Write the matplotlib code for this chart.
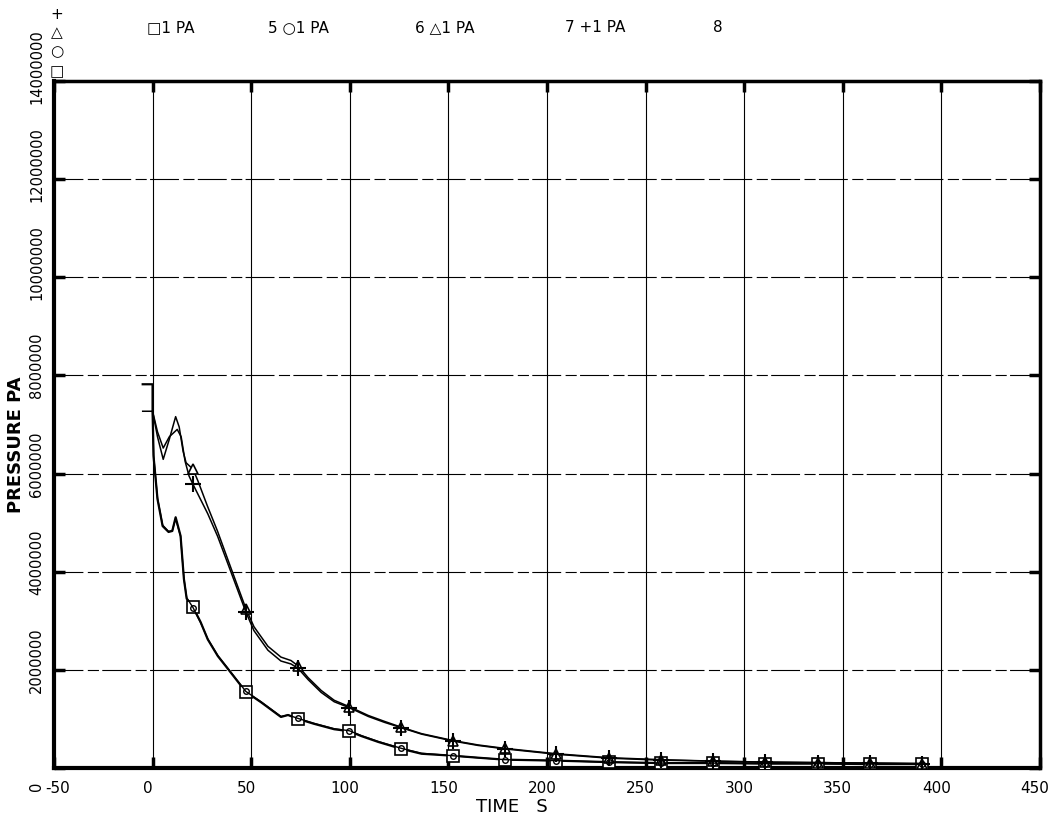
import numpy as np
import matplotlib
matplotlib.use('Agg')
import matplotlib.pyplot as plt
from matplotlib.transforms import ScaledTranslation, blended_transform_factory

# --- DATA (pressure in units of 1e6 Pa) ---
x_ticks = [-50, 0, 50, 100, 150, 200, 250, 300, 350, 400, 450]
x_tick_labels = ['-50', '0', '50', '100', '150', '200', '250', '300', '350', '400', '450']
y_ticks = [0, 2e6, 4e6, 6e6, 8e6, 10e6, 12e6, 14e6]
y_tick_labels = ['0', '2000000', '4000000', '6000000', '8000000', '10000000', '12000000', '14000000']

mark_t = [20.5, 47.3, 73.8, 99.7, 126.2, 152.3, 178.6, 204.8, 231.4, 257.8,
          284.4, 310.8, 337.2, 363.6, 390.0]

# series 4 (square)
t_sq = [-5, 0, 0, 0.5, 2.5, 5.1, 8.1, 10.0, 11.7, 14.2, 15.9, 17.3, 20.5, 24.4, 28.0,
        33.1, 38.2, 47.3, 55.0, 65.1, 68.7, 73.8, 81.9, 92.1, 99.7, 105.9, 114.5, 126.2,
        136.4, 152.3, 165.0, 178.6, 204.8, 231.4, 257.8, 284.4, 310.8, 337.2, 363.6, 390.0]
p_sq = [7.82, 7.82, 7.27, 6.35, 5.48, 4.93, 4.81, 4.83, 5.11, 4.73, 3.85, 3.45, 3.28, 2.97, 2.62,
        2.28, 2.02, 1.55, 1.34, 1.04, 1.08, 1.00, 0.90, 0.79, 0.75, 0.65, 0.53, 0.39,
        0.29, 0.25, 0.21, 0.17, 0.15, 0.12, 0.10, 0.10, 0.09, 0.09, 0.08, 0.08]

# series 5 (circle)
t_ci = [0, 0.5, 2.5, 5.1, 8.1, 10.0, 11.7, 14.2, 15.9, 17.3, 20.5, 24.4, 28.0,
        33.1, 38.2, 47.3, 55.0, 65.1, 68.7, 73.8, 81.9, 92.1, 99.7, 105.9, 114.5, 126.2,
        136.4, 152.3, 165.0, 178.6, 204.8, 231.4, 257.8, 284.4, 310.8, 337.2, 363.6, 390.0]
p_ci = [7.27, 6.38, 5.50, 4.95, 4.82, 4.84, 5.08, 4.72, 3.86, 3.47, 3.27, 2.96, 2.63,
        2.29, 2.03, 1.56, 1.35, 1.05, 1.08, 1.01, 0.91, 0.80, 0.76, 0.66, 0.54, 0.40,
        0.30, 0.25, 0.21, 0.17, 0.15, 0.12, 0.10, 0.10, 0.09, 0.09, 0.08, 0.08]

# series 6 (triangle)
t_tr = [-5, 0, 2.5, 5.4, 8.5, 11.7, 13.5, 15.5, 17.0, 20.5, 23.0, 27.8, 32.9, 39.7, 47.3,
        51.4, 58.5, 65.1, 70.2, 73.8, 78.9, 85.5, 92.1, 99.7, 109.4, 117.6, 126.2, 136.4,
        152.3, 165.0, 178.6, 204.8, 231.4, 257.8, 284.4, 310.8, 337.2, 363.6, 390.0]
p_tr = [7.27, 7.27, 6.75, 6.29, 6.70, 7.16, 6.95, 6.45, 6.22, 6.09, 5.85, 5.34, 4.83, 4.08, 3.25,
        2.88, 2.48, 2.26, 2.19, 2.08, 1.84, 1.58, 1.38, 1.25, 1.07, 0.95, 0.83, 0.70,
        0.56, 0.47, 0.40, 0.29, 0.21, 0.17, 0.14, 0.12, 0.11, 0.10, 0.09]

# series 7 (plus)
t_pl = [0, 2.5, 5.4, 8.5, 12.5, 14.5, 16.5, 18.5, 20.5, 24.0, 28.0, 33.0, 39.7, 47.3,
        51.4, 58.5, 65.1, 70.2, 73.8, 78.9, 85.5, 92.1, 99.7, 109.4, 117.6, 126.2, 136.4,
        152.3, 165.0, 178.6, 204.8, 231.4, 257.8, 284.4, 310.8, 337.2, 363.6, 390.0]
p_pl = [7.27, 6.85, 6.52, 6.75, 6.90, 6.75, 6.25, 5.95, 5.78, 5.50, 5.18, 4.72, 4.00, 3.18,
        2.80, 2.40, 2.18, 2.12, 2.03, 1.80, 1.54, 1.35, 1.23, 1.05, 0.93, 0.82, 0.69,
        0.55, 0.46, 0.39, 0.28, 0.20, 0.16, 0.14, 0.12, 0.11, 0.10, 0.09]

legend_items = ['\u25a11 PA', '5 \u25cb1 PA', '6 \u25b31 PA', '7 +1 PA', '8']
legend_x = [0.1395, 0.2543, 0.3937, 0.536, 0.6765]
stack_glyphs = ['+', '\u25b3', '\u25cb', '\u25a1']

plt.rcParams['font.family'] = ['DejaVu Sans']

fig = plt.figure(figsize=(10.54, 8.2), dpi=100)
ax = fig.add_axes([0.0512, 0.0622, 0.9355, 0.8378])


def marks(ts):
    return [i for i, t in enumerate(ts) if t in mark_t]


ax.plot(t_sq, np.array(p_sq) * 1e6, color='black', lw=1.6, marker='s', ms=9,
        mfc='white', mec='black', mew=1.2, markevery=marks(t_sq), zorder=4)
ax.plot(t_ci, np.array(p_ci) * 1e6, color='black', lw=1.0, marker='o', ms=4,
        mfc='none', mec='black', mew=1.0, markevery=marks(t_ci), zorder=5)
ax.plot(t_tr, np.array(p_tr) * 1e6, color='black', lw=1.1, marker='^', ms=7,
        mfc='white', mec='black', mew=1.2, markevery=marks(t_tr), zorder=4)
ax.plot(t_pl, np.array(p_pl) * 1e6, color='black', lw=1.1, marker='+', ms=11,
        mec='black', mew=1.5, markevery=marks(t_pl), zorder=5)

ax.set_xlim(-50, 450)
ax.set_ylim(0, 14e6)

# grid
for xv in x_ticks[1:-1]:
    ax.axvline(xv, color='black', lw=0.8, zorder=1)
for yv in y_ticks[1:-1]:
    ax.axhline(yv, color='black', lw=0.8, ls=(0, (26, 4, 10, 3)), zorder=1)

for side, lw in [('left', 3), ('bottom', 3), ('right', 2.5), ('top', 2.5)]:
    ax.spines[side].set_linewidth(lw)

ax.set_xticks(x_ticks)
ax.set_xticklabels(x_tick_labels, fontsize=11, ha='center')
ax.set_yticks(y_ticks)
ax.set_yticklabels([])
ax.tick_params(axis='both', direction='in', length=8, width=2.5, top=True, right=True)
ax.tick_params(axis='x', pad=9)
for i, lbl in enumerate(ax.get_xticklabels()):
    dx = 4 if i == 0 else -5
    lbl.set_transform(lbl.get_transform() + ScaledTranslation(dx / 100, 0, fig.dpi_scale_trans))

# rotated y tick labels
trans = blended_transform_factory(ax.transAxes, ax.transData) + \
    ScaledTranslation(0, -22 / 100, fig.dpi_scale_trans)
for v, s in zip(y_ticks, y_tick_labels):
    ax.text(-0.0175, v, s, transform=trans, rotation=90, ha='center', va='bottom',
            fontsize=10.5, clip_on=False)

ax.set_xlabel('TIME   S', fontsize=13)
ax.xaxis.set_label_coords(0.464, -0.042)
ax.set_ylabel('PRESSURE PA', fontsize=13, fontweight='bold')
ax.yaxis.set_label_coords(-0.029, 0.472)

for x, s in zip(legend_x, legend_items):
    fig.text(x, 0.966, s, ha='left', va='center', fontsize=11)

for y, g in zip([0.982, 0.960, 0.937, 0.912], stack_glyphs):
    fig.text(0.054, y, g, ha='center', va='center', fontsize=11)

plt.savefig('out.png', dpi=100)
